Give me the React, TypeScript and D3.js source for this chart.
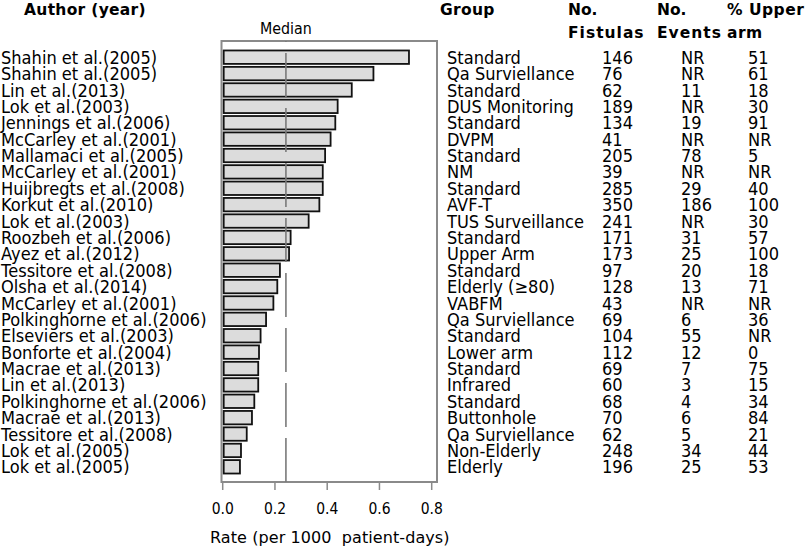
import React from "react";
import * as d3 from "d3";

const authors = [
  "Shahin et al.(2005)", "Shahin et al.(2005)", "Lin et al.(2013)", "Lok et al.(2003)",
  "Jennings et al.(2006)", "McCarley et al.(2001)", "Mallamaci et al.(2005)", "McCarley et al.(2001)",
  "Huijbregts et al.(2008)", "Korkut et al.(2010)", "Lok et al.(2003)", "Roozbeh et al.(2006)",
  "Ayez et al.(2012)", "Tessitore et al.(2008)", "Olsha et al.(2014)", "McCarley et al.(2001)",
  "Polkinghorne et al.(2006)", "Elseviers et al.(2003)", "Bonforte et al.(2004)", "Macrae et al.(2013)",
  "Lin et al.(2013)", "Polkinghorne et al.(2006)", "Macrae et al.(2013)", "Tessitore et al.(2008)",
  "Lok et al.(2005)", "Lok et al.(2005)",
];
const groups = [
  "Standard", "Qa Surviellance", "Standard", "DUS Monitoring", "Standard", "DVPM", "Standard", "NM",
  "Standard", "AVF-T", "TUS Surveillance", "Standard", "Upper Arm", "Standard", "Elderly (≥80)", "VABFM",
  "Qa Surviellance", "Standard", "Lower arm", "Standard", "Infrared", "Standard", "Buttonhole",
  "Qa Surviellance", "Non-Elderly", "Elderly",
];
const fistulas = ["146", "76", "62", "189", "134", "41", "205", "39", "285", "350", "241", "171", "173", "97", "128", "43", "69", "104", "112", "69", "60", "68", "70", "62", "248", "196"];
const events = ["NR", "NR", "11", "NR", "19", "NR", "78", "NR", "29", "186", "NR", "31", "25", "20", "13", "NR", "6", "55", "12", "7", "3", "4", "6", "5", "34", "25"];
const upperArm = ["51", "61", "18", "30", "91", "NR", "5", "NR", "40", "100", "30", "57", "100", "18", "71", "NR", "36", "NR", "0", "75", "15", "34", "84", "21", "44", "53"];
const rates = [0.713, 0.577, 0.494, 0.440, 0.431, 0.413, 0.392, 0.383, 0.383, 0.370, 0.329, 0.260, 0.254, 0.219, 0.209, 0.194, 0.166, 0.145, 0.139, 0.136, 0.136, 0.121, 0.112, 0.092, 0.070, 0.066];
const MEDIAN = 0.242;
const xTicks = [0, 0.2, 0.4, 0.6, 0.8];

const FONT = "'DejaVu Sans', sans-serif";

function T(props: { x: number; y: number; sx?: number; size: number; anchor?: string; bold?: boolean; ls?: number; children: React.ReactNode }) {
  const { x, y, sx = 1, size, anchor = "start", bold = false, ls = 0, children } = props;
  return (
    <text transform={`translate(${x},${y}) scale(${sx},1)`} fontSize={size} textAnchor={anchor}
      fontWeight={bold ? "bold" : "normal"} letterSpacing={ls} fill="#000" style={{ whiteSpace: "pre" }}>
      {children}
    </text>
  );
}

export default function App() {
  const W = 805, H = 548;
  const frame = { left: 221.5, right: 437, top: 41, bottom: 482 };
  const x = d3.scaleLinear().domain([0, 0.8]).range([222.7, 431.7]);
  const idx = d3.range(rates.length);
  const y = d3.scaleBand<number>().domain(idx).range([49, 475]).paddingInner(0.18).paddingOuter(0.09);
  const bw = y.bandwidth();
  const rowText = (i: number) => (y(i) as number) + bw / 2 + 6.6;
  const RS = 17.5, RSX = 0.93;

  const cols = [
    { x: 447, data: groups },
    { x: 602, data: fistulas },
    { x: 681, data: events },
    { x: 748, data: upperArm },
  ];

  return (
    <svg width={W} height={H} style={{ position: "absolute", left: 0, top: 0, background: "#fff" }} fontFamily={FONT}>
      <rect x={0} y={0} width={W} height={H} fill="#fff" />
      {/* headers */}
      <T x={24} y={15} size={15.5} bold ls={0.3}>Author (year)</T>
      <T x={440} y={15} size={15.5} bold ls={0.3}>Group</T>
      <T x={568} y={15} size={15.5} bold>No.</T>
      <T x={568} y={37.5} size={15.5} bold ls={1}>Fistulas</T>
      <T x={657} y={15} size={15.5} bold>No.</T>
      <T x={657} y={37.5} size={15.5} bold ls={1}>Events</T>
      <T x={727} y={15} size={15.5} bold ls={0.5}>% Upper</T>
      <T x={727} y={37.5} size={15.5} bold ls={0.5}>arm</T>
      {/* frame */}
      <rect x={frame.left} y={frame.top} width={frame.right - frame.left} height={frame.bottom - frame.top}
        fill="none" stroke="#8a8a8a" strokeWidth={2} />
      {/* bars */}
      {idx.map((i) => (
        <rect key={"b" + i} x={x(0) + 1} y={y(i) as number} width={x(rates[i]) - x(0) - 1} height={bw}
          fill="#dcdcdc" stroke="#111" strokeWidth={1.8} />
      ))}
      {/* median line */}
      <line x1={x(MEDIAN)} x2={x(MEDIAN)} y1={frame.bottom} y2={frame.top} stroke="#7a7a7a" strokeWidth={1.6}
        strokeDasharray="44 11" />
      <T x={x(MEDIAN)} y={34} size={15} sx={0.95} anchor="middle">Median</T>
      {/* author labels and table */}
      {idx.map((i) => (
        <T key={"a" + i} x={1} y={rowText(i)} size={RS} sx={RSX}>{authors[i]}</T>
      ))}
      {cols.map((c, ci) =>
        idx.map((i) => (
          <T key={"c" + ci + "-" + i} x={c.x} y={rowText(i)} size={RS} sx={RSX}>{c.data[i]}</T>
        ))
      )}
      {/* x axis ticks */}
      {xTicks.map((t) => (
        <g key={"t" + t}>
          <line x1={x(t)} x2={x(t)} y1={frame.bottom} y2={frame.bottom + 8} stroke="#8a8a8a" strokeWidth={1.5} />
          <T x={x(t)} y={513.5} size={16} sx={0.87} anchor="middle">{d3.format(".1f")(t)}</T>
        </g>
      ))}
      <T x={210} y={543} size={16} ls={0.08}>{"Rate (per 1000  patient-days)"}</T>
    </svg>
  );
}
